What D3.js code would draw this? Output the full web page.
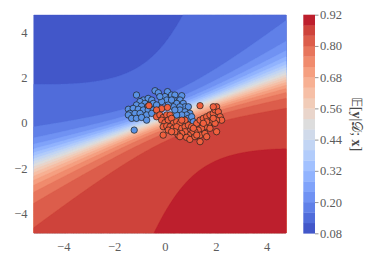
<!DOCTYPE html>
<html>
<head>
<meta charset="utf-8">
<script src="https://cdn.jsdelivr.net/npm/d3@7"></script>
<style>
  body { margin: 0; background: #fff; }
  text { font-family: "Liberation Serif", serif; }
</style>
</head>
<body>
<div id="chart"></div>
<script>
// class 0 (blue) and class 1 (red) samples
var class0 = [[-1.12,1.23],[-0.39,1.42],[-0.26,1.33],[0.10,1.38],[0.26,1.23],[0.00,1.16],[0.07,1.01],[0.39,1.23],
  [0.66,1.20],[0.59,1.01],[-0.85,1.01],[-0.66,1.08],[-0.52,1.01],[-0.98,0.94],[-0.79,0.86],[-1.12,0.79],
  [-0.92,0.74],[-0.66,0.74],[-0.46,0.86],[-0.13,0.94],[0.33,1.01],[0.46,0.86],[0.72,0.86],[0.79,0.71],
  [0.59,0.71],[0.92,0.71],[0.33,0.71],[0.13,0.79],[-1.44,0.60],[-1.25,0.64],[-1.05,0.60],[-0.85,0.57],
  [-0.66,0.57],[-0.46,0.57],[-1.38,0.42],[-1.18,0.42],[-0.98,0.42],[-0.72,0.35],[-0.52,0.42],[-1.44,0.35],
  [-1.31,0.20],[-1.12,0.20],[-0.92,0.24],[0.59,0.57],[0.79,0.49],[0.98,0.42],[0.85,0.35],[0.66,0.35],
  [0.46,0.35],[0.92,0.20],[1.05,0.27],[1.12,0.05],[0.79,0.05],[-0.72,0.12],[-1.21,-0.32],[-0.33,0.79],
  [-0.20,1.16],[0.26,1.01],[0.39,0.57]];
var class1 = [[-0.63,0.76],[-0.13,0.63],[0.10,0.68],[-0.33,0.57],[1.38,0.76],[-0.33,0.27],[-0.20,0.35],[-0.07,0.24],
  [0.07,0.35],[0.20,0.35],[-0.13,0.12],[0.00,0.01],[0.13,0.12],[0.26,0.20],[0.33,-0.02],[0.46,0.05],
  [0.59,-0.02],[-0.07,-0.17],[0.07,-0.14],[0.20,-0.17],[0.33,-0.24],[0.46,-0.17],[0.66,-0.24],[0.79,-0.17],
  [0.92,-0.10],[1.05,-0.17],[1.25,-0.02],[1.38,0.12],[1.51,0.20],[1.64,0.27],[1.77,0.35],[1.90,0.42],
  [1.97,0.57],[2.03,0.71],[1.90,0.71],[2.10,0.49],[2.17,0.27],[2.23,0.12],[2.03,0.12],[1.84,0.05],
  [1.71,-0.10],[1.57,-0.17],[1.44,-0.24],[1.31,-0.32],[1.18,-0.39],[1.05,-0.47],[0.92,-0.54],[0.79,-0.39],
  [0.66,-0.47],[0.52,-0.54],[0.39,-0.39],[0.59,-0.61],[0.85,-0.64],[0.98,-0.73],[1.18,-0.61],[1.38,-0.54],
  [1.57,-0.47],[1.64,-0.61],[1.77,-0.24],[1.97,-0.02],[1.38,-0.83],[-0.07,-0.54],[2.03,-0.39],[1.90,0.20],
  [1.64,0.05],[1.51,-0.02],[0.13,-0.32],[0.26,-0.39],[0.79,0.12],[1.12,-0.24],[1.25,-0.54],[0.66,0.12]];

// Bayesian logistic model (features [1, x, y]):
// posterior mean of the weights and Cholesky factor [l00, l10, l11, l20, l21, l22] of their covariance
var meanWeights = [0.669, 1.202, -2.947];
var covChol = [0.710, 0.554, 0.847, -1.838, -1.086, 0.903];

var xDomain = [-5.17, 4.78];
var yDomain = [-4.88, 4.78];
var xTicks = [-4, -2, 0, 2, 4];
var yTicks = [-4, -2, 0, 2, 4];
var levels = d3.range(8, 93, 4).map(function (d) { return d / 100; });
var cbTicks = [0.08, 0.20, 0.32, 0.44, 0.56, 0.68, 0.80, 0.92];

// matplotlib coolwarm
var coolwarmData = [[0.0,0.2298057,0.298717966,0.753683153],[0.03125,0.26623388,0.353094838,0.801466763],
  [0.0625,0.30386891,0.406535296,0.84495867],[0.09375,0.342804478,0.458757618,0.883725899],
  [0.125,0.38301334,0.50941904,0.917387822],[0.15625,0.424369608,0.558148092,0.945619588],
  [0.1875,0.46666708,0.604562568,0.968154911],[0.21875,0.509635204,0.648280772,0.98478814],
  [0.25,0.552953156,0.688929332,0.995375608],[0.28125,0.596262162,0.726149107,0.999836203],
  [0.3125,0.639176211,0.759599947,0.998151185],[0.34375,0.681291281,0.788964712,0.990363227],
  [0.375,0.722193294,0.813952739,0.976574709],[0.40625,0.761464949,0.834302879,0.956945269],
  [0.4375,0.798691636,0.849786142,0.931688648],[0.46875,0.833466556,0.860207984,0.901068838],
  [0.5,0.865395197,0.86541021,0.865395561],[0.53125,0.897787179,0.848937047,0.820880546],
  [0.5625,0.924127593,0.827384882,0.774508472],[0.59375,0.944468518,0.800927443,0.726736146],
  [0.625,0.958852946,0.769767752,0.678007945],[0.65625,0.96732803,0.734132809,0.628751763],
  [0.6875,0.969954137,0.694266682,0.579375448],[0.71875,0.966811177,0.650421156,0.530263762],
  [0.75,0.958003065,0.602842431,0.481775914],[0.78125,0.943660866,0.551750968,0.434243684],
  [0.8125,0.923944917,0.49730856,0.387970225],[0.84375,0.89904617,0.439559467,0.343229596],
  [0.875,0.869186849,0.378313092,0.300267182],[0.90625,0.834620542,0.312874446,0.259301199],
  [0.9375,0.795631745,0.24128379,0.220525627],[0.96875,0.752534934,0.157246067,0.184115123],
  [1.0,0.705673158,0.01555616,0.150232812]];

var coolwarm = d3.scaleLinear()
    .domain(coolwarmData.map(function (d) { return d[0]; }))
    .range(coolwarmData.map(function (d) { return d3.rgb(d[1] * 255, d[2] * 255, d[3] * 255).toString(); }))
    .clamp(true);

function bandColor(i) {
    var mid = (levels[i] + levels[i + 1]) / 2;
    return coolwarm((mid - levels[0]) / (levels[levels.length - 1] - levels[0]));
}

// probit approximation of E[y | D; x]
function predictive(px, py) {
    var m = meanWeights[0] + meanWeights[1] * px + meanWeights[2] * py;
    var a = covChol[0] + covChol[1] * px + covChol[3] * py;
    var b = covChol[2] * px + covChol[4] * py;
    var c = covChol[5] * py;
    var v = a * a + b * b + c * c;
    return 1 / (1 + Math.exp(-m / Math.sqrt(1 + Math.PI * v / 8)));
}

var W = 374, H = 262;
var plot = {left: 33.5, right: 286.5, top: 14.7, bottom: 233.3};
var cb = {left: 303.3, right: 315, top: 14.7, bottom: 233.3};
var tickFont = "'Liberation Serif', 'Times New Roman', serif";

var svg = d3.select("#chart").append("svg")
    .attr("width", W)
    .attr("height", H)
    .style("background", "#fff");

var x = d3.scaleLinear().domain(xDomain).range([plot.left, plot.right]);
var y = d3.scaleLinear().domain(yDomain).range([plot.bottom, plot.top]);

// evaluate on a grid and fill the contour bands
var nx = 260, ny = 230;
var values = new Array(nx * ny);
for (var j = 0; j < ny; j++) {
    for (var i = 0; i < nx; i++) {
        var gx = xDomain[0] + (i + 0.5) / nx * (xDomain[1] - xDomain[0]);
        var gy = yDomain[1] - (j + 0.5) / ny * (yDomain[1] - yDomain[0]);
        values[i + j * nx] = predictive(gx, gy);
    }
}

var contours = d3.contours()
    .size([nx, ny])
    .thresholds(levels.slice(0, -1))(values);

var gridToPx = d3.geoTransform({
    point: function (gx, gy) {
        this.stream.point(plot.left + gx / nx * (plot.right - plot.left),
                          plot.top + gy / ny * (plot.bottom - plot.top));
    }
});

svg.append("clipPath").attr("id", "clip")
    .append("rect")
    .attr("x", plot.left).attr("y", plot.top)
    .attr("width", plot.right - plot.left).attr("height", plot.bottom - plot.top);

var g = svg.append("g").attr("clip-path", "url(#clip)");

g.append("rect")
    .attr("x", plot.left).attr("y", plot.top)
    .attr("width", plot.right - plot.left).attr("height", plot.bottom - plot.top)
    .attr("fill", bandColor(0));

g.selectAll("path.band")
    .data(contours)
    .enter()
    .append("path")
    .attr("class", "band")
    .attr("d", d3.geoPath(gridToPx))
    .attr("fill", function (d, i) { return bandColor(i); })
    .attr("stroke", function (d, i) { return bandColor(i); })
    .attr("stroke-width", 0.3);

// scatter
var pts = class0.map(function (d) { return {p: d, c: 0}; })
    .concat(class1.map(function (d) { return {p: d, c: 1}; }));

svg.append("g")
    .selectAll("circle")
    .data(pts)
    .enter()
    .append("circle")
    .attr("cx", function (d) { return x(d.p[0]); })
    .attr("cy", function (d) { return y(d.p[1]); })
    .attr("r", 3.2)
    .attr("fill", function (d) { return d.c === 0 ? "#5a92e4" : "#f0603e"; })
    .attr("stroke", "#1e1e1e")
    .attr("stroke-width", 0.7);

// axes
var xAxis = d3.axisBottom(x).tickValues(xTicks).tickSize(0).tickPadding(9);
var yAxis = d3.axisLeft(y).tickValues(yTicks).tickSize(0).tickPadding(6);

var gx_ = svg.append("g")
    .attr("transform", "translate(0," + plot.bottom + ")")
    .call(xAxis);
var gy_ = svg.append("g")
    .attr("transform", "translate(" + plot.left + ",0)")
    .call(yAxis);

[gx_, gy_].forEach(function (a) {
    a.select(".domain").remove();
    a.selectAll("text")
        .style("font-family", tickFont)
        .style("font-size", "12.5px")
        .attr("fill", "#5c5c5c");
});

// colorbar
var cbScale = d3.scaleLinear()
    .domain([levels[0], levels[levels.length - 1]])
    .range([cb.bottom, cb.top]);

svg.append("g")
    .selectAll("rect")
    .data(levels.slice(0, -1))
    .enter()
    .append("rect")
    .attr("x", cb.left)
    .attr("width", cb.right - cb.left)
    .attr("y", function (d, i) { return cbScale(levels[i + 1]); })
    .attr("height", function (d, i) { return cbScale(levels[i]) - cbScale(levels[i + 1]) + 0.3; })
    .attr("fill", function (d, i) { return bandColor(i); });

var cbAxis = d3.axisRight(cbScale)
    .tickValues(cbTicks)
    .tickFormat(d3.format(".2f"))
    .tickSize(3.5)
    .tickPadding(1.5);

var gc = svg.append("g")
    .attr("transform", "translate(" + cb.right + ",0)")
    .call(cbAxis);
gc.select(".domain").remove();
gc.selectAll("line").attr("stroke", "#777").attr("stroke-width", 0.8);
gc.selectAll("text")
    .style("font-family", tickFont)
    .style("font-size", "12.5px")
    .attr("fill", "#5c5c5c");

var label = svg.append("text")
    .attr("transform", "translate(357,124) rotate(90)")
    .attr("text-anchor", "middle")
    .attr("dominant-baseline", "central")
    .style("font-family", tickFont)
    .style("font-size", "14px")
    .attr("fill", "#4a4a4a");
label.append("tspan").text("\uD835\uDD3C[");
label.append("tspan").style("font-weight", "bold").text("y");
label.append("tspan").text("|\uD835\uDC9F; ");
label.append("tspan").style("font-weight", "bold").text("x");
label.append("tspan").text("]");
</script>
</body>
</html>
